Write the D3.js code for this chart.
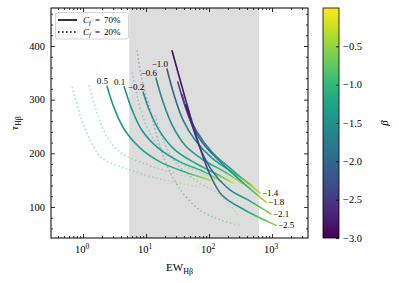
<!DOCTYPE html>
<html>
<head>
<meta charset="utf-8">
<script src="https://cdn.jsdelivr.net/npm/d3@7"></script>
<style>
  body { margin: 0; background: #fff; }
  text { font-family: "Liberation Serif", "DejaVu Serif", serif; fill: #000; }
</style>
</head>
<body>
<div id="chart"></div>
<script>
// solid curves (C_f = 70%), label, where the label sits, and points along each curve
const solidLabels = ["0.5", "0.1", "\u22120.2", "\u22120.6", "\u22121.0", "\u22121.4", "\u22121.8", "\u22122.1", "\u22122.5"];
const solidLabelAt = ["start", "start", "start", "start", "start", "end", "end", "end", "end"];
const solidEW = [
  [2.4, 3.2, 4.6, 8.0, 16.7, 41.6, 104],
  [4.5, 6.0, 8.6, 15.5, 34.7, 86, 161],
  [9.0, 11.6, 16.7, 29, 60, 124, 240],
  [14.4, 18.6, 25.9, 41.6, 80, 180, 347],
  [21.5, 27.8, 38.7, 60, 112, 232, 482],
  [32, 43, 64.5, 112, 232, 645],
  [37.3, 50, 77, 139, 310, 803],
  [43, 55.7, 77, 116, 215, 448, 964],
  [25.9, 34.7, 50, 72, 104, 161, 373, 1156]
];
const solidTau = [
  [325, 281, 243, 210, 184, 165, 150],
  [324, 281, 243, 210, 184, 165, 147],
  [314, 277, 240, 206, 182, 163, 145],
  [340, 296, 253, 215, 188, 165, 143],
  [357, 309, 262, 225, 191, 165, 141],
  [333, 284, 240, 202, 169, 126],
  [309, 262, 221, 188, 150, 109],
  [290, 247, 202, 165, 132, 111, 87],
  [391, 337, 271, 210, 160, 122, 94, 66]
];
const solidBeta = [
  [-1.45, -1.4, -1.35, -1.3, -1.2, -1.0, -0.4],
  [-1.5, -1.45, -1.4, -1.3, -1.2, -1.0, -0.35],
  [-1.55, -1.5, -1.4, -1.3, -1.2, -1.0, -0.3],
  [-1.7, -1.6, -1.5, -1.4, -1.25, -1.0, -0.3],
  [-2.2, -2.0, -1.8, -1.6, -1.4, -1.1, -0.3],
  [-2.4, -2.2, -1.9, -1.6, -1.3, -0.3],
  [-2.5, -2.3, -2.0, -1.7, -1.4, -0.4],
  [-2.9, -2.7, -2.4, -2.0, -1.6, -1.2, -0.5],
  [-2.95, -2.85, -2.7, -2.5, -2.2, -1.8, -1.3, -0.5]
];

// dotted curves (C_f = 20%)
const dottedEW = [
  [0.67, 0.9, 1.29, 2.0, 5.6, 20, 72],
  [1.25, 1.61, 2.32, 3.87, 8.0, 24, 72],
  [6.0, 7.5, 10, 15.5, 32, 86, 215],
  [7.2, 8.6, 11.6, 15.5, 22.3, 37.3, 72, 150, 322],
  [13.9, 18.6, 29, 60, 150, 288]
];
const dottedTau = [
  [324, 271, 225, 191, 169, 150, 137],
  [327, 281, 234, 202, 184, 165, 150],
  [351, 299, 253, 215, 184, 160, 141],
  [392, 337, 281, 225, 173, 128, 94, 76, 65],
  [271, 225, 184, 150, 122, 85]
];
const dottedBeta = [
  [-1.3, -1.25, -1.2, -1.1, -1.0, -0.8, -0.5],
  [-1.3, -1.25, -1.2, -1.1, -1.0, -0.8, -0.4],
  [-1.4, -1.35, -1.3, -1.2, -1.1, -0.9, -0.3],
  [-2.7, -2.6, -2.5, -2.3, -2.1, -1.9, -1.6, -1.3, -0.6],
  [-2.0, -1.8, -1.5, -1.2, -0.8, -0.4]
];

const shadeRange = [5.4, 620];
const xMajor = [1, 10, 100, 1000];
const yMajor = [100, 200, 300, 400];
const betaTicks = [-0.5, -1.0, -1.5, -2.0, -2.5, -3.0];

const W = 399, H = 283;
const L = 51, R = 308, T = 8, B = 238;

const svg = d3.select("#chart").append("svg")
  .attr("width", W).attr("height", H);
const defs = svg.append("defs");

const x = d3.scaleLog().domain([0.31, 3726]).range([L, R]);
const y = d3.scaleLinear().domain([42.2, 470.8]).range([B, T]);
const color = d3.scaleSequential(d3.interpolateViridis).domain([-3, 0]);

defs.append("clipPath").attr("id", "plotclip")
  .append("rect").attr("x", L).attr("y", T).attr("width", R - L).attr("height", B - T);

// shaded band
svg.append("rect")
  .attr("x", x(shadeRange[0])).attr("y", T)
  .attr("width", x(shadeRange[1]) - x(shadeRange[0]))
  .attr("height", B - T)
  .attr("fill", "#dddddd");

const line = d3.line().curve(d3.curveCatmullRom.alpha(0.5));
const plot = svg.append("g").attr("clip-path", "url(#plotclip)");

// one gradient per curve, running from its first to its last point
function drawCurve(id, ew, tau, beta, dotted) {
  const pts = ew.map((e, j) => [x(e), y(tau[j])]);
  const p0 = pts[0], p1 = pts[pts.length - 1];
  const dx = p1[0] - p0[0], dy = p1[1] - p0[1];
  const len2 = dx * dx + dy * dy;
  const grad = defs.append("linearGradient").attr("id", id)
    .attr("gradientUnits", "userSpaceOnUse")
    .attr("x1", p0[0]).attr("y1", p0[1]).attr("x2", p1[0]).attr("y2", p1[1]);
  let last = 0;
  pts.forEach((p, j) => {
    let t = ((p[0] - p0[0]) * dx + (p[1] - p0[1]) * dy) / len2;
    t = Math.max(last, Math.min(1, t));
    last = t;
    grad.append("stop").attr("offset", t).attr("stop-color", color(beta[j]));
  });
  plot.append("path")
    .attr("d", line(pts))
    .attr("fill", "none")
    .attr("stroke", `url(#${id})`)
    .attr("stroke-width", 1.6)
    .attr("stroke-linecap", dotted ? "butt" : "round")
    .attr("stroke-dasharray", dotted ? "1.6,2.4" : null)
    .attr("opacity", dotted ? 0.35 : 1);
  return pts;
}

dottedEW.forEach((ew, i) => drawCurve("gd" + i, ew, dottedTau[i], dottedBeta[i], true));

solidEW.forEach((ew, i) => {
  const pts = drawCurve("gs" + i, ew, solidTau[i], solidBeta[i], false);
  if (solidLabelAt[i] === "start") {
    svg.append("text")
      .attr("x", pts[0][0] + 1).attr("y", pts[0][1] - 2)
      .attr("text-anchor", "end")
      .attr("font-size", 9)
      .text(solidLabels[i]);
  } else {
    const p = pts[pts.length - 1];
    svg.append("text")
      .attr("x", p[0] + 2).attr("y", p[1] + 3)
      .attr("font-size", 9)
      .text(solidLabels[i]);
  }
});

// axes: ticks pointing inward on all four sides
const xMinor = [];
[0.1, 1, 10, 100, 1000].forEach(d => {
  for (let k = 2; k <= 9; k++) {
    const v = d * k;
    if (v > 0.31 && v < 3726) xMinor.push(v);
  }
});
const yMinor = d3.range(60, 470, 20).filter(v => v % 100 !== 0);

function ticks(axisFn, scale, vals, size, tr) {
  const g = svg.append("g").attr("transform", tr)
    .call(axisFn(scale).tickValues(vals).tickSize(-size).tickSizeOuter(0).tickFormat(""));
  g.select(".domain").remove();
  g.selectAll("line").attr("stroke", "#000").attr("stroke-width", 0.8);
}
ticks(d3.axisBottom, x, xMajor, 4, `translate(0,${B})`);
ticks(d3.axisBottom, x, xMinor, 2, `translate(0,${B})`);
ticks(d3.axisTop, x, xMajor, 4, `translate(0,${T})`);
ticks(d3.axisTop, x, xMinor, 2, `translate(0,${T})`);
ticks(d3.axisLeft, y, yMajor, 4, `translate(${L},0)`);
ticks(d3.axisLeft, y, yMinor, 2, `translate(${L},0)`);
ticks(d3.axisRight, y, yMajor, 4, `translate(${R},0)`);
ticks(d3.axisRight, y, yMinor, 2, `translate(${R},0)`);

svg.append("rect")
  .attr("x", L).attr("y", T).attr("width", R - L).attr("height", B - T)
  .attr("fill", "none").attr("stroke", "#000").attr("stroke-width", 1);

// tick labels
xMajor.forEach(v => {
  const t = svg.append("text")
    .attr("x", x(v) - 1).attr("y", 253)
    .attr("text-anchor", "middle")
    .attr("font-size", 10.5);
  t.append("tspan").text("10");
  t.append("tspan").attr("dy", -4.5).attr("font-size", 7.5).text(Math.log10(v));
});
yMajor.forEach(v => {
  svg.append("text")
    .attr("x", 45).attr("y", y(v) + 3.6)
    .attr("text-anchor", "end")
    .attr("font-size", 10.5)
    .text(v);
});

// axis titles
const xt = svg.append("text")
  .attr("x", (L + R) / 2).attr("y", 271)
  .attr("text-anchor", "middle").attr("font-size", 11);
xt.append("tspan").text("EW");
xt.append("tspan").attr("dy", 2.5).attr("font-size", 8).text("H\u03b2");

const yt = svg.append("text")
  .attr("transform", `translate(18,${(T + B) / 2}) rotate(-90)`)
  .attr("text-anchor", "middle").attr("font-size", 11);
yt.append("tspan").attr("font-style", "italic").text("\u03c4");
yt.append("tspan").attr("dy", 2.5).attr("font-size", 8).text("H\u03b2");

// legend
const lg = svg.append("g");
lg.append("rect")
  .attr("x", 55.5).attr("y", 12.5).attr("width", 73).attr("height", 26.5)
  .attr("rx", 2).attr("fill", "#fff").attr("fill-opacity", 0.85)
  .attr("stroke", "#cccccc").attr("stroke-width", 0.8);
const legendItems = [{ dash: null, text: "70%" }, { dash: "1.6,2.4", text: "20%" }];
legendItems.forEach((d, i) => {
  const ly = 20 + i * 12;
  lg.append("line")
    .attr("x1", 58).attr("x2", 77).attr("y1", ly).attr("y2", ly)
    .attr("stroke", "#000").attr("stroke-width", 1.6)
    .attr("stroke-dasharray", d.dash);
  const t = lg.append("text").attr("x", 83).attr("y", ly + 3).attr("font-size", 9);
  t.append("tspan").attr("font-style", "italic").text("C");
  t.append("tspan").attr("font-style", "italic").attr("font-size", 6.5).attr("dy", 2).text("f");
  t.append("tspan").attr("dy", -2).text(" \u2009=\u2009 " + d.text);
});

// colorbar
const cb = { x: 323, w: 16 };
const cy = d3.scaleLinear().domain([-3, 0]).range([B, T]);
const cg = defs.append("linearGradient").attr("id", "cbar")
  .attr("x1", 0).attr("y1", 1).attr("x2", 0).attr("y2", 0);
d3.range(0, 1.0001, 0.05).forEach(t => {
  cg.append("stop").attr("offset", t).attr("stop-color", d3.interpolateViridis(t));
});
svg.append("rect")
  .attr("x", cb.x).attr("y", T).attr("width", cb.w).attr("height", B - T)
  .attr("fill", "url(#cbar)").attr("stroke", "#000").attr("stroke-width", 0.8);
const cax = svg.append("g").attr("transform", `translate(${cb.x + cb.w},0)`)
  .call(d3.axisRight(cy).tickValues(betaTicks).tickSize(-3).tickSizeOuter(0).tickFormat(""));
cax.select(".domain").remove();
cax.selectAll("line").attr("stroke", "#000").attr("stroke-width", 0.8);
betaTicks.forEach(v => {
  svg.append("text")
    .attr("x", cb.x + cb.w + 4).attr("y", cy(v) + 3.6)
    .attr("font-size", 10.5)
    .text(d3.format(".1f")(v).replace("-", "\u2212"));
});
svg.append("text")
  .attr("transform", `translate(388,${(T + B) / 2}) rotate(-90)`)
  .attr("text-anchor", "middle")
  .attr("font-size", 11).attr("font-style", "italic")
  .text("\u03b2");
</script>
</body>
</html>
